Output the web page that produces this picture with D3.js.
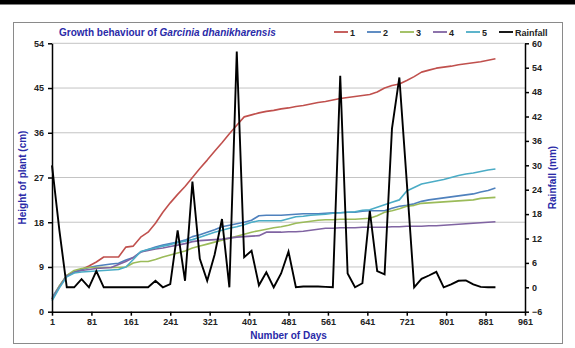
<!DOCTYPE html>
<html>
<head>
<meta charset="utf-8">
<title>Growth behaviour</title>
<script src="https://cdn.jsdelivr.net/npm/d3@7"></script>
<style>
  html, body { margin: 0; padding: 0; background: #fff; overflow: hidden }
  svg { font-family: "Liberation Sans", Arial, sans-serif; font-weight: bold }
  .grid line { stroke: #c4c4c4; stroke-width: 1 }
  .axis path, .axis line { stroke: #000; stroke-width: 1.5 }
  .axis text { font-size: 9px; font-weight: bold; fill: #222 }
</style>
</head>
<body>
<div id="chart"></div>
<script>
  // days sampled every 15 days
  const days = d3.range(1, 902, 15)
  const xTicks = d3.range(1, 962, 80)
  const heightTicks = [0, 9, 18, 27, 36, 45, 54]
  const rainTicks = [-6, 0, 6, 12, 18, 24, 30, 36, 42, 48, 54, 60]

  const s1 = [2.5, 5, 7.3, 8, 8.5, 9.2, 10, 11, 11, 11, 13, 13.2, 15, 16, 17.8, 20, 21.9, 23.6, 25.2, 27,
    28.8, 30.5, 32.3, 34, 35.8, 37.5, 39.2, 39.6, 40, 40.3, 40.5, 40.8, 41, 41.3, 41.5, 41.8, 42.1, 42.3, 42.6, 42.9,
    43.1, 43.3, 43.5, 43.7, 44.2, 45, 45.5, 45.8, 46.5, 47.3, 48.2, 48.6, 49, 49.2, 49.4, 49.7, 49.9, 50.1, 50.3, 50.6, 50.9]
  const s2 = [2.8, 5.2, 7.3, 8, 8.5, 8.9, 9.2, 9.4, 9.6, 9.75, 10.4, 10.9, 12, 12.5, 13, 13.4, 13.7, 14, 14.4, 15.1,
    15.5, 16, 16.5, 17.1, 17.4, 17.7, 18, 18.4, 19.3, 19.4, 19.4, 19.4, 19.5, 19.6, 19.7, 19.7, 19.7, 19.8, 19.9, 19.9,
    20, 20, 20.2, 20.3, 20.3, 20.3, 20.8, 21.2, 21.4, 21.7, 22.2, 22.5, 22.7, 22.9, 23.1, 23.3, 23.5, 23.7, 24.1, 24.4, 24.9]
  const s3 = [2.5, 5.2, 7.3, 8.3, 8.7, 8.9, 8.9, 8.9, 8.9, 8.9, 9, 9.8, 10.1, 10.1, 10.5, 11, 11.4, 11.8, 12.2, 12.8,
    13.2, 13.6, 14, 14.4, 14.8, 15.2, 15.6, 16, 16.3, 16.6, 16.9, 17.1, 17.4, 17.8, 18, 18.2, 18.4, 18.5, 18.5, 18.6,
    18.6, 18.6, 18.7, 18.8, 19.3, 20, 20.3, 20.7, 21.2, 21.4, 21.8, 21.9, 22, 22.1, 22.2, 22.3, 22.4, 22.5, 22.8, 22.9, 23]
  const s4 = [2.5, 5, 7.2, 7.9, 8.3, 8.5, 8.7, 8.8, 8.9, 9.5, 10.1, 10.9, 12, 12.3, 12.6, 12.8, 13.1, 13.4, 13.7, 14.1,
    14.3, 14.4, 14.5, 14.6, 14.8, 15, 15.1, 15.2, 15.3, 16, 16, 16, 16.1, 16.1, 16.2, 16.4, 16.6, 16.8, 16.8, 16.9,
    16.9, 16.9, 17, 17, 17, 17, 17.1, 17.1, 17.2, 17.2, 17.2, 17.3, 17.3, 17.4, 17.5, 17.6, 17.7, 17.8, 17.9, 18, 18.1]
  const s5 = [2.2, 4.8, 7, 7.8, 8, 8.1, 8.2, 8.3, 8.4, 8.5, 9, 10.5, 12.1, 12.5, 12.8, 13.2, 13.5, 13.9, 14.2, 14.5,
    15, 15.5, 16, 16.4, 16.8, 17.1, 17.5, 18, 18.3, 18.3, 18.3, 18.3, 18.7, 19.1, 19.2, 19.4, 19.5, 19.6, 19.8, 19.9,
    20, 20.1, 20.4, 20.5, 21, 21.5, 22, 22.5, 24.3, 25, 25.7, 26, 26.3, 26.6, 27, 27.4, 27.7, 27.9, 28.2, 28.5, 28.7]
  const rainfall = [30, 14, 0, 0, 2, 0, 4, 0, 0, 0, 0, 0, 0, 0, 1.6, 0, 0.8, 14, 1.6, 26,
    7, 1.6, 8, 16.8, 0, 58, 7.4, 9, 0.5, 3.7, 0, 3.4, 8.8, 0, 0.2, 0.2, 0.2, 0.1, 0, 52,
    3.4, 0, 1, 18.8, 4, 3.2, 39, 51.6, 26, 0, 2.1, 2.9, 3.8, 0, 0.7, 1.6, 1.7, 0.7, 0.1, 0, 0]

  const seriesNames = ['1', '2', '3', '4', '5']
  const seriesData = [s1, s2, s3, s4, s5]
  const colors = ['#C0504D', '#4F81BD', '#9BBB59', '#8064A2', '#4BACC6']
  const titleBlue = '#2a2aa8'

  const W = 575, H = 348
  const mLeft = 52, mRight = 525, mTop = 43.3, mBottom = 311.7

  const svg = d3.select('#chart').append('svg')
    .attr('width', W).attr('height', H)

  svg.append('rect').attr('x', 0).attr('y', 0).attr('width', W).attr('height', 4.5).attr('fill', '#000')
  svg.append('rect').attr('x', 13.5).attr('y', 22.5).attr('width', 549).attr('height', 321)
    .attr('fill', 'none').attr('stroke', '#8a8a8a').attr('stroke-width', 1)

  const x = d3.scaleLinear().domain([1, 961]).range([mLeft, mRight])
  const yH = d3.scaleLinear().domain([0, 54]).range([mBottom, mTop])
  const yR = d3.scaleLinear().domain([-6, 60]).range([mBottom, mTop])

  // gridlines
  svg.append('g').attr('class', 'grid')
    .selectAll('line').data(heightTicks.slice(1)).enter().append('line')
    .attr('x1', mLeft).attr('x2', mRight)
    .attr('y1', d => yH(d)).attr('y2', d => yH(d))

  // height series
  const line = d3.line().x((d, i) => x(days[i])).y(d => yH(d))
  seriesData.forEach((s, k) => {
    svg.append('path').datum(s)
      .attr('fill', 'none').attr('stroke', colors[k]).attr('stroke-width', 1.6)
      .attr('stroke-linejoin', 'round')
      .attr('d', line)
  })

  // rainfall
  const rainLine = d3.line().x((d, i) => x(days[i])).y(d => yR(d))
  svg.append('path').datum(rainfall)
    .attr('fill', 'none').attr('stroke', '#000').attr('stroke-width', 1.9)
    .attr('stroke-linejoin', 'miter')
    .attr('d', rainLine)

  // axes
  svg.append('g').attr('class', 'axis')
    .attr('transform', 'translate(' + mLeft + ',0)')
    .call(d3.axisLeft(yH).tickValues(heightTicks).tickSize(4).tickSizeOuter(0).tickPadding(4))
  svg.append('g').attr('class', 'axis')
    .attr('transform', 'translate(' + mRight + ',0)')
    .call(d3.axisRight(yR).tickValues(rainTicks).tickSize(4).tickSizeOuter(0).tickPadding(3))
  svg.append('g').attr('class', 'axis')
    .attr('transform', 'translate(0,' + mBottom + ')')
    .call(d3.axisBottom(x).tickValues(xTicks).tickFormat(d3.format('d')).tickSize(4).tickSizeOuter(0).tickPadding(3))

  // axis titles
  svg.append('text').attr('transform', 'translate(26,' + ((mTop + mBottom) / 2) + ') rotate(-90)')
    .attr('text-anchor', 'middle').attr('fill', titleBlue).style('font-size', '10px')
    .text('Height of plant (cm)')
  svg.append('text').attr('transform', 'translate(556,' + ((mTop + mBottom) / 2) + ') rotate(-90)')
    .attr('text-anchor', 'middle').attr('fill', titleBlue).style('font-size', '10px')
    .text('Rainfall (mm)')
  svg.append('text').attr('x', (mLeft + mRight) / 2).attr('y', 339)
    .attr('text-anchor', 'middle').attr('fill', titleBlue).style('font-size', '10px')
    .text('Number of Days')

  // title
  const title = svg.append('text').attr('x', 59).attr('y', 36)
    .attr('fill', titleBlue).style('font-size', '10px')
  title.append('tspan').text('Growth behaviour of ')
  title.append('tspan').style('font-style', 'italic').text('Garcinia dhanikharensis')

  // legend
  const legendNames = seriesNames.concat(['Rainfall'])
  const legendColors = colors.concat(['#000'])
  const legendX = [334, 367, 400, 433, 466, 499]
  const lg = svg.append('g').selectAll('g').data(legendNames).enter().append('g')
    .attr('transform', (d, i) => 'translate(' + legendX[i] + ',32)')
  lg.append('line').attr('x1', 0).attr('x2', 14).attr('y1', 0).attr('y2', 0)
    .attr('stroke', (d, i) => legendColors[i]).attr('stroke-width', 1.8)
  lg.append('text').attr('x', 16).attr('y', 3.5).style('font-size', '9px').attr('fill', '#222')
    .text(d => d)
</script>
</body>
</html>
